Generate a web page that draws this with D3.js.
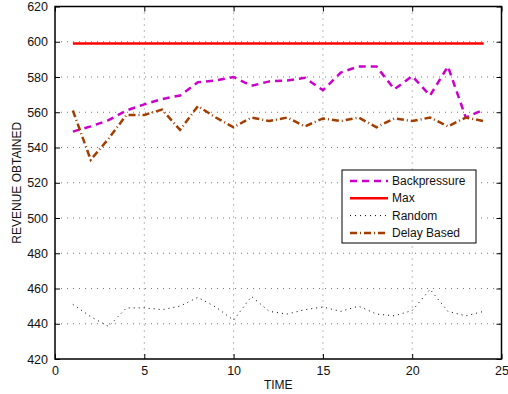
<!DOCTYPE html>
<html>
<head>
<meta charset="utf-8">
<script src="https://d3js.org/d3.v7.min.js"></script>
<style>
  body { margin: 0; background: #fff; }
  text { font-family: "Liberation Sans", Arial, Helvetica, sans-serif; }
</style>
</head>
<body>
<script>
  // data
  var time = d3.range(1, 25);
  var backpressure = [549, 552, 555.5, 561, 564.5, 567.5, 569.5, 577, 578, 580, 575, 577.5, 578, 579.5, 572.5, 582.5, 586, 586, 573, 580.5, 569.5, 586, 557, 561.5];
  var maxRev = [599, 599, 599, 599, 599, 599, 599, 599, 599, 599, 599, 599, 599, 599, 599, 599, 599, 599, 599, 599, 599, 599, 599, 599];
  var random = [451, 444, 438.5, 449, 449, 448, 450, 455, 449.5, 442, 455.5, 447, 445.5, 448, 449.5, 447, 450, 445.5, 444.5, 447.5, 459.5, 447, 444.5, 447];
  var delayBased = [561, 533, 545, 558.5, 558.5, 561.5, 550, 563.5, 557, 551.5, 557, 555, 557, 552, 556.5, 555, 557, 551.5, 556.5, 555, 557, 552, 557, 555];
  var xTicks = [0, 5, 10, 15, 20, 25];
  var yTicks = [420, 440, 460, 480, 500, 520, 540, 560, 580, 600, 620];

  var width = 508, height = 394;
  var margin = { left: 55, top: 6.5, right: 6.5, bottom: 35 };
  var w = width - margin.left - margin.right;
  var h = height - margin.top - margin.bottom;

  var svg = d3.select("body").append("svg")
    .attr("width", width)
    .attr("height", height);
  var g = svg.append("g")
    .attr("transform", "translate(" + margin.left + "," + margin.top + ")");

  var x = d3.scaleLinear().domain([0, 25]).range([0, w]);
  var y = d3.scaleLinear().domain([420, 620]).range([h, 0]);

  // dotted grid
  g.selectAll(".gx").data(xTicks.slice(1, -1)).enter().append("line")
    .attr("x1", d => x(d)).attr("x2", d => x(d))
    .attr("y1", 0).attr("y2", h)
    .attr("stroke", "#777").attr("stroke-width", 1)
    .attr("stroke-dasharray", "1,5");
  g.selectAll(".gy").data(yTicks.slice(1, -1)).enter().append("line")
    .attr("x1", 0).attr("x2", w)
    .attr("y1", d => y(d)).attr("y2", d => y(d))
    .attr("stroke", "#777").attr("stroke-width", 1)
    .attr("stroke-dasharray", "1,5");

  // axes with inward ticks
  g.append("g").attr("transform", "translate(0," + h + ")")
    .call(d3.axisBottom(x).tickValues(xTicks).tickSize(-5).tickPadding(7));
  g.append("g")
    .call(d3.axisLeft(y).tickValues(yTicks).tickSize(-5).tickPadding(7));
  g.append("g").attr("transform", "translate(" + w + ",0)")
    .call(d3.axisRight(y).tickValues(yTicks).tickSize(-5).tickFormat(""));
  g.append("g")
    .call(d3.axisTop(x).tickValues(xTicks).tickSize(-5).tickFormat(""));
  g.selectAll(".domain").remove();
  g.selectAll(".tick line").attr("stroke", "#000");
  g.selectAll(".tick text").attr("font-size", 12.5).attr("fill", "#111")
    .attr("font-family", "'Liberation Sans', Arial, sans-serif");

  g.append("rect").attr("width", w).attr("height", h)
    .attr("fill", "none").attr("stroke", "#000").attr("stroke-width", 1.5);

  var line = d3.line().x((d, i) => x(time[i])).y(d => y(d));

  var series = [
    { name: "Backpressure", values: backpressure, color: "#cc00cc", width: 2.5, dash: "7,5" },
    { name: "Max", values: maxRev, color: "#ff0000", width: 2.5, dash: null },
    { name: "Random", values: random, color: "#000", width: 1, dash: "1,4" },
    { name: "Delay Based", values: delayBased, color: "#a33d00", width: 2.5, dash: "7,3,1,3" }
  ];

  series.forEach(s => {
    g.append("path")
      .attr("d", line(s.values))
      .attr("fill", "none")
      .attr("stroke", s.color)
      .attr("stroke-width", s.width)
      .attr("stroke-dasharray", s.dash);
  });

  // legend
  var lg = svg.append("g").attr("transform", "translate(342,170)");
  lg.append("rect").attr("width", 134).attr("height", 73)
    .attr("fill", "#fff").attr("stroke", "#000").attr("stroke-width", 1);
  series.forEach((s, i) => {
    var yy = 11 + i * 17.3;
    lg.append("line")
      .attr("x1", 8).attr("x2", 46).attr("y1", yy).attr("y2", yy)
      .attr("stroke", s.color).attr("stroke-width", s.width)
      .attr("stroke-dasharray", s.dash);
    lg.append("text").attr("x", 50).attr("y", yy + 4)
      .attr("font-size", 12).attr("fill", "#111").text(s.name);
  });

  // axis titles
  svg.append("text")
    .attr("x", margin.left + w / 2).attr("y", 389)
    .attr("text-anchor", "middle").attr("font-size", 12).attr("fill", "#111")
    .text("TIME");
  svg.append("text")
    .attr("transform", "translate(21," + (margin.top + h / 2) + ") rotate(-90)")
    .attr("text-anchor", "middle").attr("font-size", 12).attr("fill", "#111")
    .text("REVENUE OBTAINED");
</script>
</body>
</html>
